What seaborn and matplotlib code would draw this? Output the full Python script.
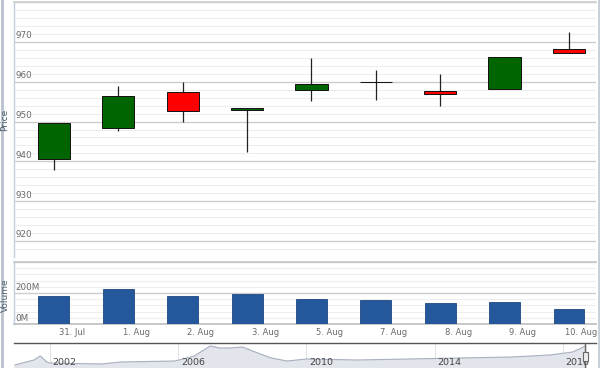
import matplotlib
matplotlib.use("Agg")
import matplotlib.pyplot as plt
import matplotlib.transforms as mtransforms
from matplotlib.patches import Rectangle
from matplotlib.lines import Line2D
from matplotlib.ticker import MultipleLocator
import numpy as np
import pandas as pd
import seaborn as sns

# Daily OHLC + volume
dates = ["31. Jul", "1. Aug", "2. Aug", "3. Aug", "5. Aug", "7. Aug", "8. Aug", "9. Aug", "10. Aug"]
opens = [940.7, 948.5, 957.3, 952.8, 957.8, 960.0, 957.6, 958.2, 968.3]
highs = [949.6, 959.0, 960.0, 953.4, 965.9, 962.9, 962.0, 966.1, 972.5]
lows = [937.8, 947.5, 949.8, 942.3, 955.1, 955.4, 953.8, 958.2, 967.2]
closes = [949.6, 956.3, 952.6, 953.3, 959.5, 960.0, 956.8, 966.1, 967.2]
volumes = [182, 226, 179, 196, 163, 153, 135, 140, 99]  # millions

price_ticks = [920, 930, 940, 950, 960, 970]
volume_ticks = [0, 200]

# Navigator history (year, height of the shaded area)
nav_years = [2000.9, 2001.5, 2001.7, 2001.9, 2002.0, 2003.6, 2004.2, 2005.9, 2006.5,
             2007.0, 2007.3, 2007.6, 2008.0, 2008.4, 2008.9, 2009.4, 2010.0, 2011.6,
             2013.2, 2014.8, 2016.4, 2017.6, 2018.3, 2018.7]
nav_values = [3, 8, 12, 6, 5, 4, 6, 7, 12, 22, 20, 20, 21, 16, 10, 7, 9, 8, 9, 10,
              11, 13, 16, 22]
nav_year_ticks = [2002, 2006, 2010, 2014, 2018]

UP = "#006400"
DOWN = "#ff0000"
BAR = "#24579b"
TICK_COLOR = "#6a6a6a"
MAJOR_GRID = "#cccccc"
MINOR_GRID = "#ededed"

sns.set_theme(style="white")
plt.rcParams["font.family"] = ["DejaVu Sans"]

W, H = 600, 368
fig = plt.figure(figsize=(W / 100, H / 100), dpi=100)


def box(left, top, right, bottom):
    return [left / W, 1 - bottom / H, (right - left) / W, (bottom - top) / H]


ax_p = fig.add_axes(box(14, 2, 596, 257))
ax_v = fig.add_axes(box(14, 262, 596, 324))
ax_n = fig.add_axes(box(14, 343, 596, 368))

x = np.arange(len(dates))
xlim = (-0.62, 8.42)

# ---- price panel ----
ax_p.set_ylim(916, 980)
ax_p.yaxis.set_major_locator(MultipleLocator(10))
ax_p.yaxis.set_minor_locator(MultipleLocator(2))
ax_p.grid(True, which="minor", axis="y", color=MINOR_GRID, lw=0.8)
ax_p.grid(True, which="major", axis="y", color=MAJOR_GRID, lw=1.0)
ax_p.set_axisbelow(True)

ax_p.vlines(x, lows, highs, color="#222222", lw=0.9, zorder=2)
o = np.array(opens)
c = np.array(closes)
body_colors = [UP if cc > oo else (DOWN if cc < oo else "black") for oo, cc in zip(o, c)]
ax_p.bar(x, np.abs(c - o), bottom=np.minimum(o, c), width=0.5, color=body_colors,
         edgecolor="#111111", linewidth=0.7, zorder=3)

ax_p.set_xlim(*xlim)
ax_p.set_xticks([])
ax_p.tick_params(axis="y", length=0, labelleft=False)
for v in price_ticks:
    ax_p.text(0.003, v + 0.4, str(v), transform=ax_p.get_yaxis_transform(),
              ha="left", va="bottom", fontsize=6.3, color=TICK_COLOR, zorder=4)

# ---- volume panel ----
vol_df = pd.DataFrame({"date": dates, "volume": volumes})
sns.barplot(data=vol_df, x="date", y="volume", order=dates, color=BAR, saturation=1,
            width=0.48, edgecolor="#1b477f", linewidth=0.6, ax=ax_v, zorder=3)
ax_v.set_ylim(0, 400)
ax_v.yaxis.set_major_locator(MultipleLocator(200))
ax_v.yaxis.set_minor_locator(MultipleLocator(40))
ax_v.grid(True, which="minor", axis="y", color=MINOR_GRID, lw=0.8)
ax_v.grid(True, which="major", axis="y", color=MAJOR_GRID, lw=1.0)
ax_v.set_axisbelow(True)
ax_v.set_xlim(*xlim)
ax_v.set_xlabel("")
ax_v.set_ylabel("")
ax_v.set_xticks(x + 0.28)
ax_v.set_xticklabels(dates)
ax_v.tick_params(axis="x", length=0, pad=3, labelsize=6, labelcolor=TICK_COLOR)
ax_v.tick_params(axis="y", length=0, labelleft=False)
# last label sits against the right edge
last = ax_v.get_xticklabels()[-1]
last.set_horizontalalignment("right")
last.set_transform(last.get_transform() + mtransforms.ScaledTranslation(10 / 100, 0, fig.dpi_scale_trans))
for v in volume_ticks:
    ax_v.text(0.003, v + 8, f"{v}M", transform=ax_v.get_yaxis_transform(),
              ha="left", va="bottom", fontsize=6.3, color=TICK_COLOR, zorder=4)

for a in (ax_p, ax_v):
    for s in a.spines.values():
        s.set_visible(False)
    a.spines["left"].set_visible(True)
    a.spines["left"].set_color("#c0d0e0")
    a.spines["left"].set_linewidth(1.0)
ax_p.spines["top"].set_visible(True)
ax_p.spines["top"].set_color("#d0d0d0")
ax_v.spines["top"].set_visible(True)
ax_v.spines["top"].set_color("#c8c8c8")
ax_v.spines["bottom"].set_visible(True)
ax_v.spines["bottom"].set_color("#c0c0c0")

# ---- navigator ----
sns.lineplot(x=nav_years, y=nav_values, ax=ax_n, color="#a8b0bf", lw=0.8)
ax_n.fill_between(nav_years, nav_values, 0, color="#e2e5eb", zorder=1)
ax_n.set_xlim(2000.88, 2019.03)
ax_n.set_ylim(0, 25)
ax_n.set_xticks(nav_year_ticks)
ax_n.set_xticklabels([])
ax_n.set_yticks([])
ax_n.tick_params(length=0)
ax_n.grid(True, axis="x", color="#e4e4e4", lw=0.8)
ax_n.set_axisbelow(True)
for s in ax_n.spines.values():
    s.set_visible(False)
ax_n.spines["top"].set_visible(True)
ax_n.spines["top"].set_color("#555555")
ax_n.spines["top"].set_linewidth(1.0)
for yr in nav_year_ticks:
    ax_n.annotate(str(yr), xy=(yr, 0.21), xycoords=("data", "axes fraction"),
                  xytext=(2, 0), textcoords="offset points", ha="left", va="center",
                  fontsize=6.8, color="#444444")
# right-hand range handle
end = nav_years[-1]
trans = mtransforms.blended_transform_factory(ax_n.transData, ax_n.transAxes)
ax_n.plot([end, end], [0, 1], color="#666666", lw=1.0, transform=trans)
ax_n.add_patch(Rectangle((end - 0.09, 0.28), 0.18, 0.36, transform=trans,
                         facecolor="#eeeeee", edgecolor="#666666", lw=0.8, zorder=5))

# axis titles
fig.text(5 / W, 1 - 120 / H, "Price", rotation=90, ha="center", va="center",
         fontsize=6.5, color="#4d5d6e")
fig.text(5 / W, 1 - 295 / H, "Volume", rotation=90, ha="center", va="center",
         fontsize=6.5, color="#4d5d6e")

# outer frame strips
fig.add_artist(Line2D([1.5 / W, 1.5 / W], [0, 1], color="#b9c2cc", lw=2.0))
fig.add_artist(Line2D([598.5 / W, 598.5 / W], [0, 1], color="#c8ced6", lw=2.0))

fig.savefig("out.png", dpi=100)
